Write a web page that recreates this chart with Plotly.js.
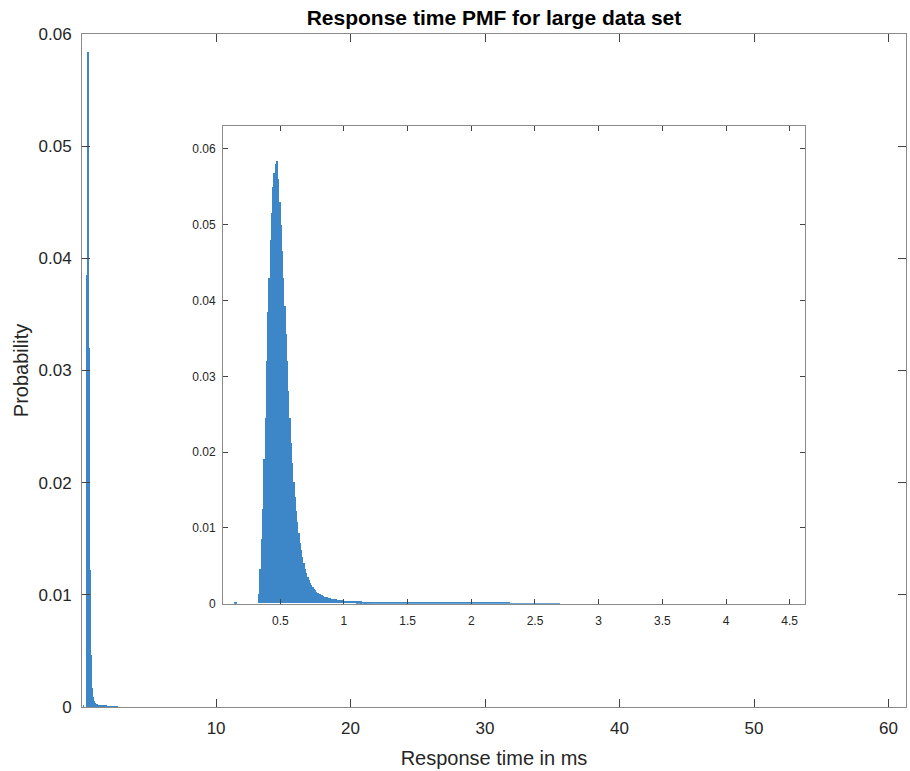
<!DOCTYPE html>
<html>
<head>
<meta charset="utf-8">
<script src="https://cdn.plot.ly/plotly-3.0.1.min.js"></script>
<style>
  html, body { margin: 0; padding: 0; background: #ffffff; }
  #chart { width: 910px; height: 771px; }
</style>
</head>
<body>
<div id="chart"></div>
<script>
// ---- data (PMF of response time) ----
// fine bins: width 0.01 ms, first bin starts at 0.14 ms
const fineBinStart = 0.14;
const fineBinWidth = 0.01;
const fineProb = [
  0.0002, 0.0002,
  0, 0, 0, 0, 0, 0, 0, 0, 0, 0, 0, 0, 0, 0, 0, 0, 0,
  0.0012, 0.0045, 0.0085, 0.0125, 0.0190, 0.0245, 0.0320, 0.0385, 0.0430, 0.0480,
  0.0515, 0.0550, 0.0568, 0.0580, 0.0584, 0.0560, 0.0530, 0.0500, 0.0465, 0.0430,
  0.0392, 0.0355, 0.0320, 0.0280, 0.0245, 0.0212, 0.0185, 0.0160, 0.0140, 0.0122,
  0.0107, 0.0093, 0.0080, 0.0070, 0.0061, 0.0053, 0.0046, 0.0040, 0.0035, 0.0031,
  0.0027, 0.0024, 0.0021, 0.0019, 0.0017, 0.0015, 0.0014, 0.0013, 0.0012, 0.0011,
  0.0010, 0.0009, 0.00085, 0.0008, 0.00075, 0.0007, 0.00065, 0.00060, 0.00057, 0.00054,
  0.00051, 0.00048, 0.00046, 0.00044, 0.00042, 0.00040, 0.00038, 0.00036, 0.00035, 0.00034,
  0.00033, 0.00032, 0.00031, 0.00030, 0.00029, 0.00028, 0.00027, 0.00026, 0.00026, 0.00025,
  0.00025, 0.00024, 0.00024, 0.00023, 0.00023, 0.00022, 0.00022
];
// long tail: per-bin probability level, grouped in 0.1 ms spans from 1.2 ms
const tailStart = 1.2;
const tailSpan = 0.1;
const tailProb = [
  0.00020, 0.00018, 0.00016, 0.00014, 0.00012, 0.00010, 0.00009, 0.00008, 0.00007, 0.00006,
  0.00005, 0.00004, 0.00003, 0.00003, 0.00002
];

const titleText = "Response time PMF for large data set";
const xTitle = "Response time in ms";
const yTitle = "Probability";

// ---- styling ----
const barColor = "#3d87c8";
const font = "Liberation Sans, Arial, Helvetica, sans-serif";
const txt = "#262626";
const axLine = "#8a8a8a";

function bars(xa, ya) {
  return [
    {
      type: "bar", x0: fineBinStart + fineBinWidth / 2, dx: fineBinWidth, y: fineProb,
      width: fineBinWidth, marker: { color: barColor, line: { width: 0 } },
      xaxis: xa, yaxis: ya, hoverinfo: "x+y", showlegend: false
    },
    {
      type: "bar", x0: tailStart + tailSpan / 2, dx: tailSpan, y: tailProb,
      width: tailSpan, marker: { color: barColor, line: { width: 0 } },
      xaxis: xa, yaxis: ya, hoverinfo: "x+y", showlegend: false
    }
  ];
}

const data = bars("x", "y").concat(bars("x2", "y2"));

function axisBase(size, len) {
  return {
    showgrid: false, zeroline: false, showline: true, mirror: "ticks",
    linecolor: axLine, linewidth: 1, ticks: "inside", ticklen: len, tickwidth: 1,
    tickcolor: "#444", tickfont: { family: font, size: size, color: txt }
  };
}

const layout = {
  width: 910, height: 771,
  paper_bgcolor: "#ffffff", plot_bgcolor: "#ffffff",
  margin: { l: 82, r: 4, t: 34, b: 64, pad: 0 },
  bargap: 0,
  barmode: "overlay",
  title: {
    text: "<b>" + titleText + "</b>",
    font: { family: font, size: 21, color: "#000" },
    x: 0.5, xref: "paper", xanchor: "center",
    y: 1 - 18 / 771, yref: "container", yanchor: "middle"
  },
  xaxis: Object.assign(axisBase(17, 8), {
    range: [0.03, 61.3], tick0: 0, dtick: 10, ticklabelstandoff: 6,
    title: { text: xTitle, font: { family: font, size: 20, color: txt }, standoff: 13 }
  }),
  yaxis: Object.assign(axisBase(17, 8), {
    range: [0, 0.06], tick0: 0, dtick: 0.01, ticklabelstandoff: 6,
    title: { text: yTitle, font: { family: font, size: 20, color: txt }, standoff: 4 }
  }),
  xaxis2: Object.assign(axisBase(12, 5), {
    domain: [0.1711, 0.8774], anchor: "y2",
    range: [0.05, 4.62], tick0: 0, dtick: 0.5, ticklabelstandoff: 6
  }),
  yaxis2: Object.assign(axisBase(12, 5), {
    domain: [0.1536, 0.8629], anchor: "x2",
    range: [0, 0.063], tick0: 0, dtick: 0.01, ticklabelstandoff: 4
  })
};

Plotly.newPlot("chart", data, layout, { displayModeBar: false, staticPlot: false });
</script>
</body>
</html>
